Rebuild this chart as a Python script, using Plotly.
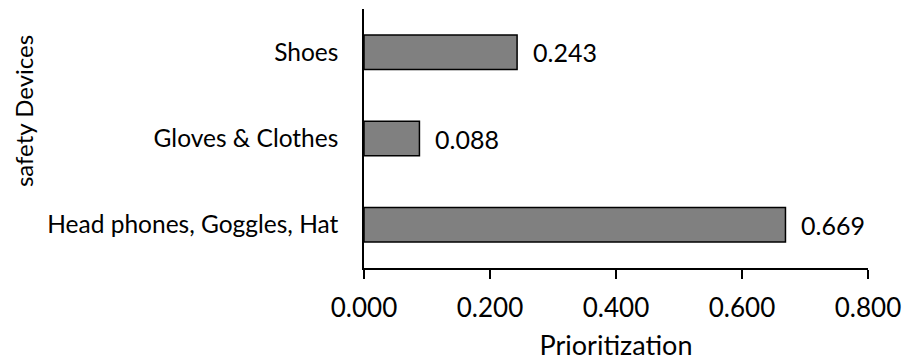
import plotly.graph_objects as go

# Prioritization weights per group of safety devices
devices = ["Head phones, Goggles, Hat", "Gloves & Clothes", "Shoes"]
weights = [0.669, 0.088, 0.243]
tick_vals = [0.0, 0.2, 0.4, 0.6, 0.8]
tick_text = ["0.000", "0.200", "0.400", "0.600", "0.800"]

FONT = "Lato"
BLACK = "#000000"

fig = go.Figure(
    go.Bar(
        x=weights,
        y=devices,
        orientation="h",
        marker=dict(color="#808080", line=dict(color=BLACK, width=1.5)),
        hoverinfo="skip",
    )
)

# Value labels to the right of each bar
for d, w in zip(devices, weights):
    fig.add_annotation(
        x=w, y=d, xref="x", yref="y",
        text=f"{w:.3f}", showarrow=False,
        xanchor="left", yanchor="middle", xshift=14,
        font=dict(family=FONT, size=25, color=BLACK),
    )

# Vertical axis title
fig.add_annotation(
    x=-0.675, y=0.605, xref="paper", yref="paper",
    text="safety Devices", textangle=-90, showarrow=False,
    xanchor="center", yanchor="middle",
    font=dict(family=FONT, size=24, color=BLACK),
)

fig.update_layout(
    width=903, height=363,
    margin=dict(l=363.5, r=35, t=9, b=95, autoexpand=False),
    paper_bgcolor="white", plot_bgcolor="white",
    bargap=0.6,
    showlegend=False,
    font=dict(family=FONT, size=25, color=BLACK),
    xaxis=dict(
        range=[0, 0.8],
        tickvals=tick_vals, ticktext=tick_text,
        tickfont=dict(family=FONT, size=26, color=BLACK),
        showgrid=False, zeroline=False, automargin=False,
        showline=True, linecolor=BLACK, linewidth=1.5,
        ticks="outside", ticklen=9, tickwidth=1.5, tickcolor=BLACK,
        ticklabelstandoff=7,
        title=dict(text="Prioritization", standoff=14,
                   font=dict(family=FONT, size=27, color=BLACK)),
    ),
    yaxis=dict(
        tickfont=dict(family=FONT, size=24.5, color=BLACK),
        showgrid=False, zeroline=False, automargin=False,
        showline=True, linecolor=BLACK, linewidth=1.5,
        ticks="", ticklabelstandoff=19,
        categoryorder="array", categoryarray=devices,
    ),
)

fig.write_html("out.html")
